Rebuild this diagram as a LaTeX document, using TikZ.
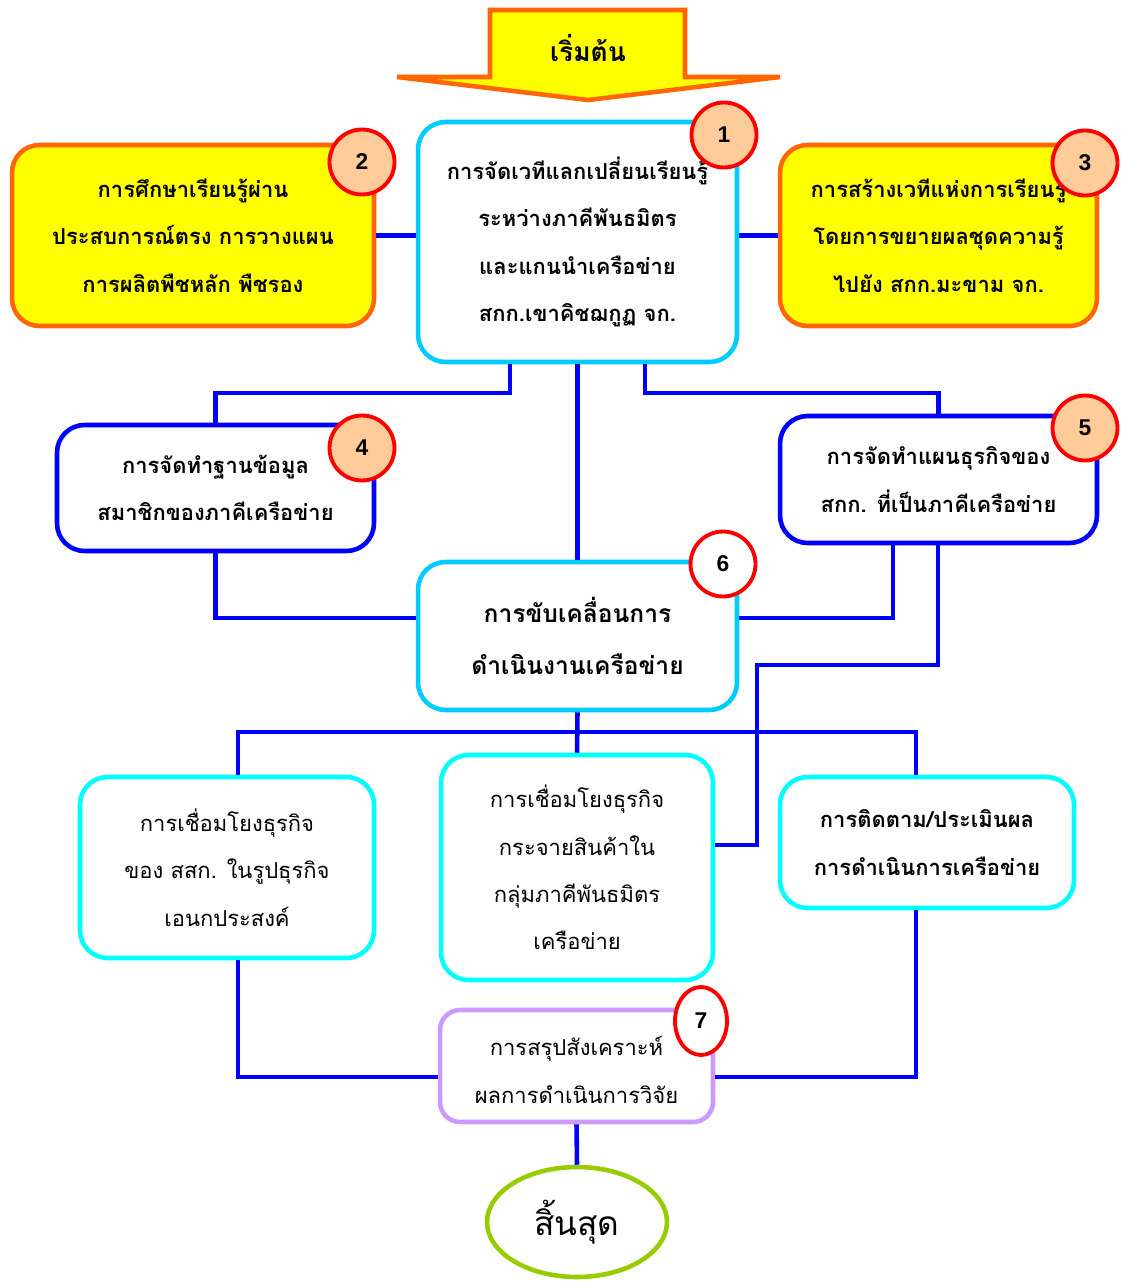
\documentclass[tikz,border=0pt]{standalone}
\usepackage{fontspec}
\setmainfont{Liberation Sans}
\newfontfamily\thaifont[Script=Thai]{Loma}
\usetikzlibrary{positioning,shapes.geometric,calc}
\definecolor{NetBlue}{HTML}{0000FF}
\definecolor{NetCyan}{HTML}{00CCFF}
\definecolor{NetAqua}{HTML}{00FFFF}
\definecolor{NetOrange}{HTML}{FF6600}
\definecolor{NetYellow}{HTML}{FFFF00}
\definecolor{NetPeach}{HTML}{FFCC99}
\definecolor{NetLilac}{HTML}{CC99FF}
\definecolor{NetLime}{HTML}{99CC00}
\tikzset{
  stepbox/.style={draw,rounded corners=5.5mm,line width=2.6pt,align=center,fill=white,inner sep=2pt,
    font=\thaifont\bfseries\fontsize{12.5}{27}\selectfont},
  plainbox/.style={stepbox,font=\thaifont\fontsize{12.5}{27}\selectfont},
  yellowbox/.style={stepbox,draw=NetOrange,fill=NetYellow},
  badge/.style={circle,draw=red,line width=2.2pt,fill=NetPeach,minimum size=1.3cm,inner sep=0pt,
    font=\bfseries\fontsize{13}{15}\selectfont},
  link/.style={draw=NetBlue,line width=2.6pt}
}
\begin{document}
\begin{tikzpicture}[x=0.02cm,y=-0.02cm]
\useasboundingbox (0,0) rectangle (1128,1283);
% start arrow
\draw[line width=2.6pt,draw=NetOrange,fill=NetYellow,line join=miter]
  (490,10) -- (685,10) -- (685,77) -- (780,77) -- (588,100) -- (397,77) -- (490,77) -- cycle;
\node[font=\thaifont\bfseries\fontsize{15}{18}\selectfont] (start) at (588,48) {เริ่มต้น};

% upper row
\node[stepbox,draw=NetCyan,minimum width=6.38cm,minimum height=4.8cm] (box1) at (577.5,242)
  {การจัดเวทีแลกเปลี่ยนเรียนรู้\\ระหว่างภาคีพันธมิตร\\และแกนนำเครือข่าย\\สกก.เขาคิชฌกูฏ จก.};
\node[yellowbox,minimum width=7.24cm,minimum height=3.62cm] (box2) at (193,235.5)
  {การศึกษาเรียนรู้ผ่าน\\ประสบการณ์ตรง การวางแผน\\การผลิตพืชหลัก พืชรอง};
\node[yellowbox,minimum width=6.34cm,minimum height=3.62cm] (box3) at (938.5,235.5)
  {การสร้างเวทีแห่งการเรียนรู้\\โดยการขยายผลชุดความรู้\\ไปยัง สกก.มะขาม จก.};

% second row
\node[stepbox,draw=NetBlue,minimum width=6.34cm,minimum height=2.52cm] (box4) at (215.5,488)
  {การจัดทำฐานข้อมูล\\สมาชิกของภาคีเครือข่าย};
\node[stepbox,draw=NetBlue,minimum width=6.34cm,minimum height=2.54cm] (box5) at (938.5,479.5)
  {การจัดทำแผนธุรกิจของ\\สกก. ที่เป็นภาคีเครือข่าย};
\node[stepbox,draw=NetCyan,minimum width=6.38cm,minimum height=2.96cm,
  font=\thaifont\bfseries\fontsize{14}{30}\selectfont] (box6) at (577.5,636)
  {การขับเคลื่อนการ\\ดำเนินงานเครือข่าย};

% third row
\node[plainbox,draw=NetAqua,minimum width=5.88cm,minimum height=3.62cm] (boxL) at (227,867.5)
  {การเชื่อมโยงธุรกิจ\\ของ สสก. ในรูปธุรกิจ\\เอนกประสงค์};
\node[plainbox,draw=NetAqua,minimum width=5.44cm,minimum height=4.5cm] (boxM) at (577,867.5)
  {การเชื่อมโยงธุรกิจ\\กระจายสินค้าใน\\กลุ่มภาคีพันธมิตร\\เครือข่าย};
\node[stepbox,draw=NetAqua,minimum width=5.88cm,minimum height=2.62cm] (boxR) at (927,842.5)
  {การติดตาม/ประเมินผล\\การดำเนินการเครือข่าย};

% summary and end
\node[plainbox,draw=NetLilac,rounded corners=4mm,minimum width=5.46cm,minimum height=2.24cm] (box7) at (576.5,1066)
  {\rule{0pt}{0.55cm}การสรุปสังเคราะห์\\ผลการดำเนินการวิจัย};
\node[ellipse,draw=NetLime,line width=2.6pt,minimum width=3.6cm,minimum height=2.2cm,
  font=\thaifont\fontsize{19}{22}\selectfont] (finish) at (577,1222) {สิ้นสุด};

% connectors
\coordinate (k1) at (510,393);
\coordinate (k2) at (645,393);
\coordinate (k3) at (0,618);
\coordinate (k4) at (893,618);
\coordinate (k5) at (938,665);
\coordinate (k6) at (757,845);
\coordinate (kL) at (238,732);
\coordinate (kR) at (916,732);
\coordinate (kB) at (0,1077);
\draw[link] (box2.east) -- (box2.east -| box1.west);
\draw[link] (box3.west -| box1.east) -- (box3.west);
\draw[link] (box1.south -| k1) -- (k1) -| (box4.north);
\draw[link] (box1.south) -- (box6.north);
\draw[link] (box1.south -| k2) -- (k2) -| (box5.north);
\draw[link] (box4.south) -- (box4.south |- k3) -- (k3 -| box6.west);
\draw[link] (box5.south -| k4) -- (k4) -- (k4 -| box6.east);
\draw[link] (box5.south -| k5) -- (k5) -| (k6) -- (k6 -| boxM.east);
\draw[link] (box6.south) -- (boxM.north);
\draw[link] (boxL.north -| kL) -- (kL) -- (kR) -- (boxR.north -| kR);
\draw[link] (boxL.south -| kL) -- (kL |- kB) -- (kB -| box7.west);
\draw[link] (boxR.south -| kR) -- (kR |- kB) -- (kB -| box7.east);
\draw[link] (box7.south) -- (finish.north);

% numbered badges
\node[badge] (n1) at (724,135) {1};
\node[badge] (n2) at (362,162) {2};
\node[badge] (n3) at (1085,163) {3};
\node[badge] (n4) at (362,448) {4};
\node[badge] (n5) at (1085,428) {5};
\node[badge,fill=white] (n6) at (723,564) {6};
\node[badge,ellipse,fill=white,minimum size=0pt,minimum width=1.04cm,minimum height=1.36cm] (n7) at (701,1021) {7};
\end{tikzpicture}
\end{document}
